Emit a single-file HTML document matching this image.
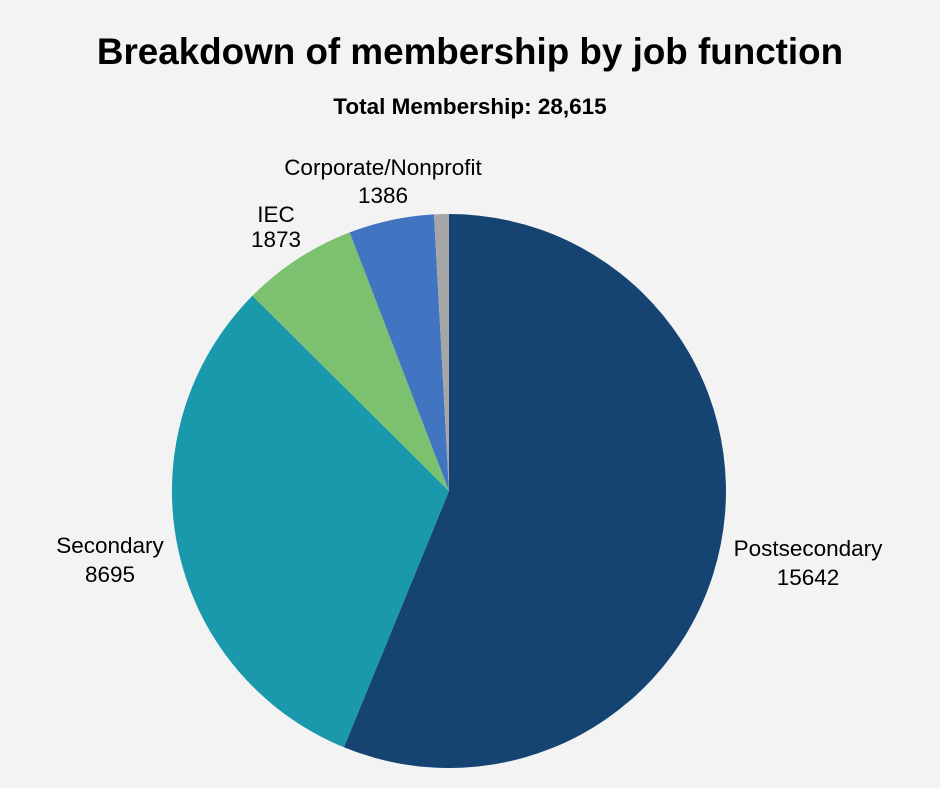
<!DOCTYPE html>
<html><head><meta charset="utf-8"><style>
body{margin:0;background:#f3f3f3;}
svg{display:block}
</style></head><body>
<svg width="940" height="788" viewBox="0 0 940 788" xmlns="http://www.w3.org/2000/svg">
<rect width="940" height="788" fill="#f3f3f3"/>
<text x="470" y="64" text-anchor="middle" font-family="Liberation Sans, sans-serif" font-weight="bold" font-size="36.8" fill="#000">Breakdown of membership by job function</text>
<text x="470" y="114" text-anchor="middle" font-family="Liberation Sans, sans-serif" font-weight="bold" font-size="22.5" fill="#000">Total Membership: 28,615</text>
<g>
<path d="M449,491 L449,214 A277,277 0 1,1 343.9,747.3 Z" fill="#154472"/>
<path d="M449,491 L343.9,747.3 A277,277 0 0,1 252.4,295.8 Z" fill="#1a98ac"/>
<path d="M449,491 L252.4,295.8 A277,277 0 0,1 349.7,232.4 Z" fill="#7bc170"/>
<path d="M449,491 L349.7,232.4 A277,277 0 0,1 434.0,214.4 Z" fill="#4175c1"/>
<path d="M449,491 L434.0,214.4 A277,277 0 0,1 449,214 Z" fill="#a6a6a6"/>
</g>
<g font-family="Liberation Sans, sans-serif" font-size="22.5" fill="#000" text-anchor="middle">
<text x="808" y="556">Postsecondary</text><text x="808" y="585">15642</text>
<text x="110" y="553">Secondary</text><text x="110" y="582">8695</text>
<text x="276" y="222">IEC</text><text x="276" y="247">1873</text>
<text x="383" y="175">Corporate/Nonprofit</text><text x="383" y="203">1386</text>
</g>
</svg>
</body></html>
